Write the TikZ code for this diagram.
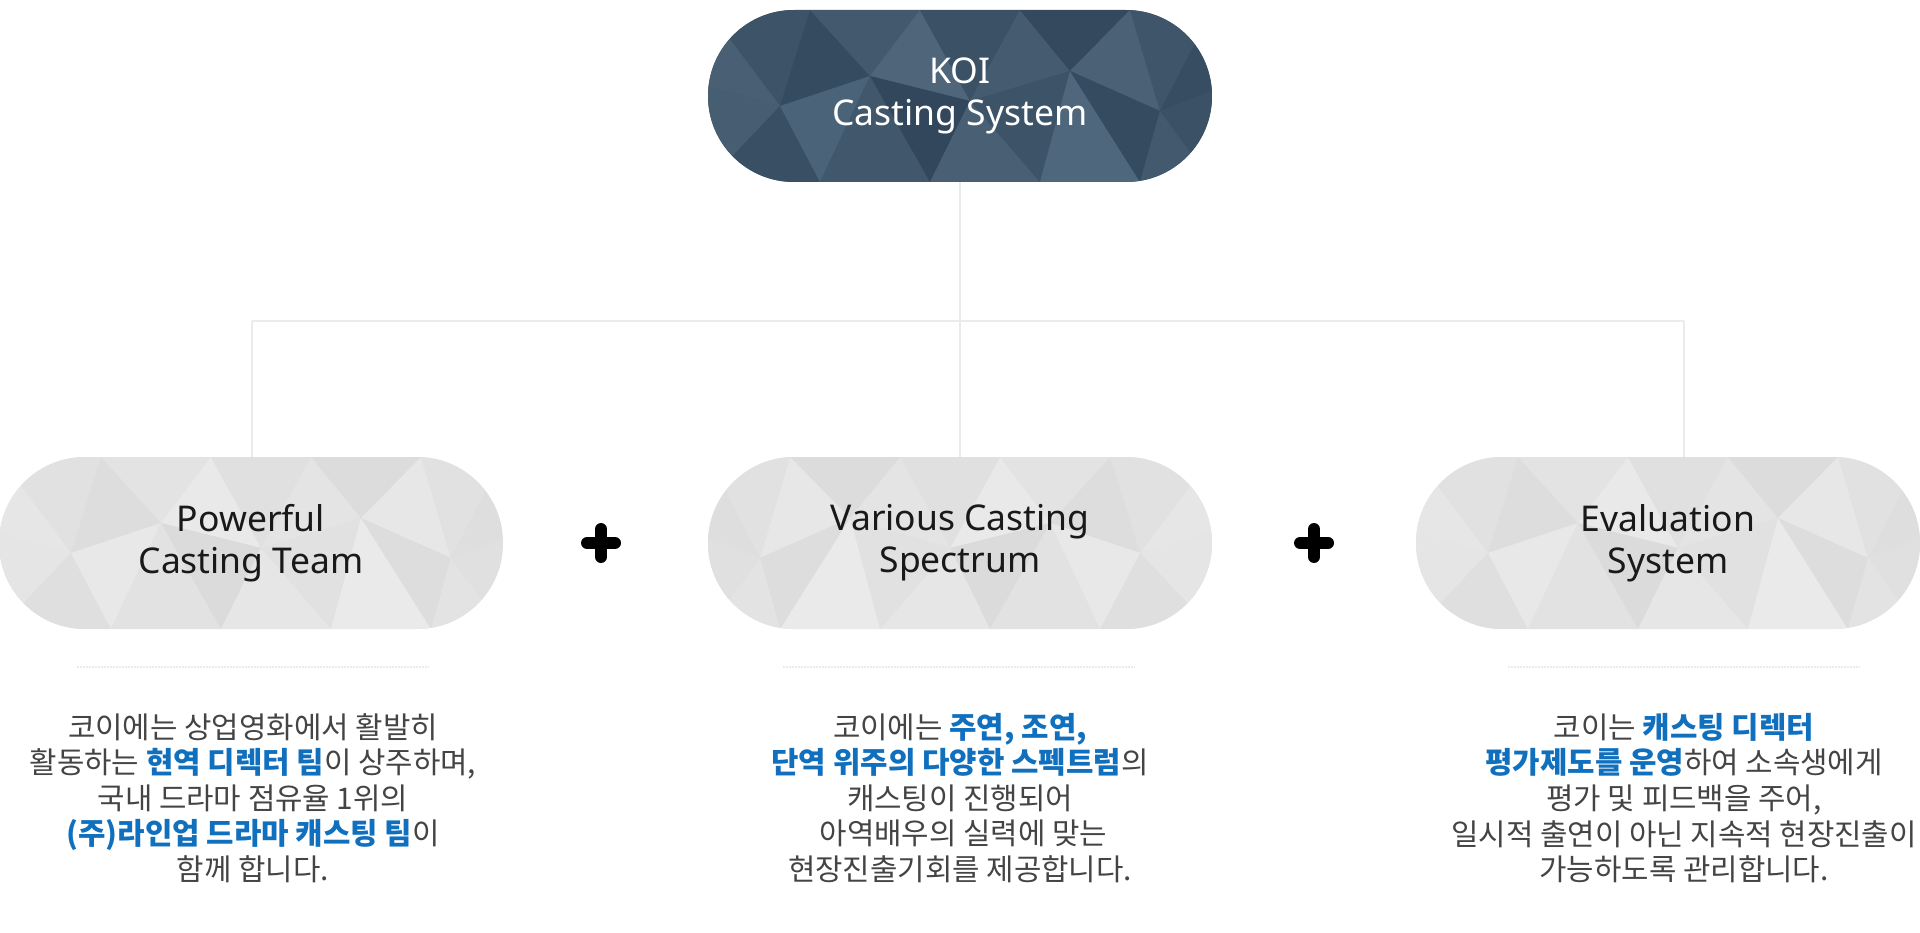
\documentclass[tikz,border=0pt]{standalone}
\usepackage{fontspec}
\setmainfont{Noto Sans}
\newfontfamily\krfont{Noto Sans CJK KR}
\definecolor{koilight}{HTML}{536B80}
\definecolor{koidark}{HTML}{2E4357}
\definecolor{greylight}{HTML}{ECECEC}
\definecolor{greydark}{HTML}{D9D9D9}
\definecolor{linegrey}{HTML}{EBEBEB}
\definecolor{bodygrey}{HTML}{444444}
\definecolor{koiblue}{HTML}{1070BE}
\newcommand{\koihl}[1]{{\bfseries\color{koiblue}#1}}

% low-poly pill background: centre, light colour, dark colour, mirror
\newcommand{\polypill}[4]{%
  \begin{scope}[shift={#1},xscale=#4]
    \clip[rounded corners=86pt] (-252,-86) rectangle (252,86);
    \fill[#2!50!#3] (-252,-86) rectangle (252,86);
    \foreach \ax/\ay/\bx/\by/\cx/\cy/\s in {
      -252/-86/-150/-86/-180/10/40, -252/-86/-180/10/-252/-10/70,
      -150/-86/-90/-20/-180/10/20, -150/-86/-40/-86/-90/-20/55,
      -40/-86/10/5/-90/-20/85, -40/-86/60/-86/10/5/35,
      60/-86/110/-25/10/5/60, 60/-86/170/-86/110/-25/15,
      170/-86/200/15/110/-25/75, 170/-86/252/-86/200/15/45,
      252/-86/252/-5/200/15/25,
      -252/-10/-180/10/-252/86/65, -180/10/-140/86/-252/86/30,
      -180/10/-90/-20/-140/86/80, -90/-20/-30/86/-140/86/50,
      -90/-20/10/5/-30/86/10, 10/5/80/86/-30/86/70,
      10/5/110/-25/80/86/40, 110/-25/180/86/80/86/90,
      110/-25/200/15/180/86/20, 200/15/252/86/180/86/55,
      200/15/252/-5/252/86/35}
      \fill[#2!\s!#3] (\ax,\ay) -- (\bx,\by) -- (\cx,\cy) -- cycle;
  \end{scope}}

\tikzset{
  pill/.style={minimum width=504pt, minimum height=172pt, inner sep=0pt,
    align=center, font=\fontsize{35.5}{42}\selectfont},
  body/.style={align=center, text=bodygrey, inner sep=0pt,
    font=\krfont\fontsize{29.8}{35.6}\selectfont},
  link/.style={draw=linegrey, line width=1.5pt},
  sepline/.style={draw=linegrey, line width=2pt, dash pattern=on 1.5pt off 1.5pt},
  plussign/.style={line width=12pt, line cap=round}
}

\begin{document}
\begin{tikzpicture}[x=1pt,y=-1pt]
  \useasboundingbox (0,0) rectangle (1920,933);

  \polypill{(960,96)}{koilight}{koidark}{1}
  \polypill{(251,543)}{greylight}{greydark}{1}
  \polypill{(960,543)}{greylight}{greydark}{-1}
  \polypill{(1668,543)}{greylight}{greydark}{1}

  \begin{scope}[every node/.style={pill}]
    \node[text=white] (koi) at (960,96) {KOI\\Casting System};
    \node[text=black!90] (team) at (251,543) {Powerful\\Casting Team};
    \node[text=black!90] (spectrum) at (960,543) {Various Casting\\Spectrum};
    \node[text=black!90] (evaluation) at (1668,543) {Evaluation\\System};
  \end{scope}

  \coordinate (forkL) at (252,321);
  \coordinate (forkR) at (1684,321);
  \draw[link] (koi.south) -- (spectrum.north);
  \draw[link] (forkL) -- (forkR);
  \draw[link] (forkL) -- (forkL |- team.north);
  \draw[link] (forkR) -- (forkR |- evaluation.north);

  \coordinate (plusA) at (601,543);
  \coordinate (plusB) at (1314,543);
  \foreach \p in {plusA,plusB}
    \draw[plussign] ([xshift=-14pt]\p) -- ([xshift=14pt]\p)
      ([yshift=-14pt]\p) -- ([yshift=14pt]\p);

  \draw[sepline] (77,667) -- (429,667);
  \draw[sepline] (783,667) -- (1135,667);
  \draw[sepline] (1508,667) -- (1860,667);

  \begin{scope}[every node/.style={body}]
    \node (teamtext) at (253,798) {코이에는 상업영화에서 활발히\\
      활동하는 \koihl{현역 디렉터 팀}이 상주하며,\\
      국내 드라마 점유율 1위의\\
      \koihl{(주)라인업 드라마 캐스팅 팀}이\\
      함께 합니다.};
    \node (spectrumtext) at (960,798) {코이에는 \koihl{주연, 조연,}\\
      \koihl{단역 위주의 다양한 스펙트럼}의\\
      캐스팅이 진행되어\\
      \ 아역배우의 실력에 맞는\\
      현장진출기회를 제공합니다.};
    \node (evaluationtext) at (1684,798) {코이는 \koihl{캐스팅 디렉터}\\
      \koihl{평가제도를 운영}하여 소속생에게\\
      평가 및 피드백을 주어,\\
      일시적 출연이 아닌 지속적 현장진출이\\
      가능하도록 관리합니다.};
  \end{scope}
\end{tikzpicture}
\end{document}
